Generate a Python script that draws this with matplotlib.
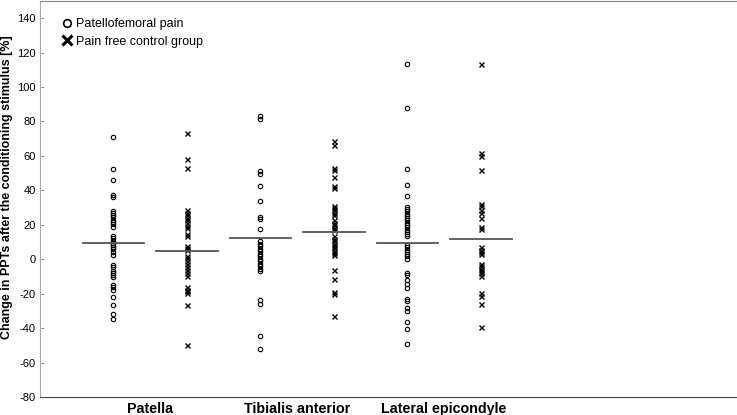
import matplotlib.pyplot as plt
from matplotlib.lines import Line2D

# 부위 / 그룹
sites = ['Patella', 'Tibialis anterior', 'Lateral epicondyle']
group_names = ['Patellofemoral pain', 'Pain free control group']

# PPT 변화량 (%) - 그림에서 읽은 값
pfp_patella = [71.1, 52.2, 46.0, 37.3, 36.2, 28.2, 26.9, 25.7, 24.3, 23.0, 21.6, 20.3, 18.7,
               13.3, 12.2, 10.6, 9.5, 8.5, 7.3, 5.8, 4.4, 2.7, -3.5, -4.8, -7.1, -8.3,
               -9.3, -10.4, -14.9, -16.4, -18.0, -22.2, -26.3, -32.1, -35.0]
ctrl_patella = [73.4, 58.0, 52.9, 28.4, 26.9, 25.5, 24.2, 22.6, 21.1, 19.5, 18.0, 14.9,
                13.5, 7.5, 6.6, 5.6, 2.1, 0.6, -0.8, -2.5, -4.4, -6.4, -7.9, -9.5,
                -16.4, -17.6, -18.7, -19.9, -26.5, -50.0]
pfp_tibialis = [83.1, 81.5, 51.2, 49.7, 42.7, 33.8, 24.5, 23.2, 17.8, 10.3, 9.1, 7.5, 6.2,
                4.8, 3.3, 1.9, 0.4, -1.0, -2.5, -4.1, -5.4, -6.8, -23.4, -26.1, -44.6, -52.2]
ctrl_tibialis = [68.4, 66.1, 53.1, 52.0, 47.7, 42.3, 41.2, 31.1, 29.7, 28.4, 26.9, 25.5,
                 22.6, 21.3, 19.7, 18.4, 17.2, 13.3, 12.0, 10.6, 9.1, 7.7, 6.4, 5.0, 3.7,
                 2.3, -6.4, -11.6, -19.1, -20.3, -32.7]
pfp_epicondyle = [113.5, 87.9, 52.2, 42.9, 36.7, 30.1, 29.0, 27.8, 26.5, 25.1, 23.9, 22.6,
                  21.3, 19.9, 18.6, 17.2, 15.8, 14.5, 13.3, 8.1, 6.8, 5.6, 4.2, 2.9, 1.7,
                  0.4, -7.9, -9.3, -12.0, -14.5, -17.0, -23.0, -24.3, -28.5, -30.1, -36.5,
                  -40.5, -49.3]
ctrl_epicondyle = [113.4, 61.6, 59.9, 52.0, 32.3, 30.7, 28.8, 26.9, 24.2, 18.7, 17.6, 7.1,
                   5.6, 4.2, 2.9, -2.5, -4.1, -5.4, -6.8, -8.3, -9.9, -19.9, -21.4, -26.1,
                   -39.2]

pfp_data = [pfp_patella, pfp_tibialis, pfp_epicondyle]
ctrl_data = [ctrl_patella, ctrl_tibialis, ctrl_epicondyle]

# 평균선
pfp_means = [9.2, 12.2, 9.3]
ctrl_means = [4.6, 15.7, 11.6]

yticks = list(range(-80, 141, 20))

plt.rcParams['font.family'] = ['Liberation Sans Narrow', 'Liberation Sans', 'DejaVu Sans']

fig = plt.figure(figsize=(7.37, 4.15), dpi=100)
ax = fig.add_axes([40 / 737, 18 / 415, 1.0, 1 - 18 / 415 - 0.002])

offset = 0.25
half = 0.21
for i in range(len(sites)):
    xp = i + 1 - offset
    xc = i + 1 + offset
    ax.plot([xp] * len(pfp_data[i]), pfp_data[i], linestyle='none', marker='o',
            markersize=3.2, markerfacecolor='none', markeredgecolor='black',
            markeredgewidth=0.8)
    ax.plot([xc] * len(ctrl_data[i]), ctrl_data[i], linestyle='none', marker='x',
            markersize=3.6, color='black', markeredgewidth=1.0)
    ax.plot([xp - half, xp + half], [pfp_means[i]] * 2, color='#555555', linewidth=1.3)
    ax.plot([xc - half, xc + half], [ctrl_means[i]] * 2, color='#555555', linewidth=1.3)

ax.set_xlim(0.25, 0.25 + 697 / 139)
ax.set_ylim(-80, 150)
ax.set_yticks(yticks)
ax.set_yticklabels([str(v) for v in yticks], fontsize=8)
ax.tick_params(axis='y', direction='in', length=3, width=0.6, color='#888888', pad=3)
ax.set_xticks([1, 2, 3])
ax.set_xticklabels(sites, fontsize=10.3, fontweight='bold')
ax.tick_params(axis='x', length=0, pad=3.5)

ax.spines['right'].set_visible(False)
ax.spines['top'].set_color('#888888')
ax.spines['left'].set_color('#aaaaaa')
ax.spines['bottom'].set_color('#444444')
for s in ax.spines.values():
    s.set_linewidth(0.8)

ax.set_ylabel('Change in PPTs after the conditioning stimulus [%]', fontsize=9,
              fontweight='bold')
ax.yaxis.set_label_coords(-0.037, 0.531)

handles = [
    Line2D([], [], linestyle='none', marker='o', markersize=5.5, markerfacecolor='none',
           markeredgecolor='black', markeredgewidth=1.2),
    Line2D([], [], linestyle='none', marker='x', markersize=6.5, color='black',
           markeredgewidth=2.2),
]
ax.legend(handles, group_names, loc='upper left', bbox_to_anchor=(0.015, 0.985),
          frameon=False, handlelength=0.8, handletextpad=0.3, labelspacing=0.45,
          prop={'family': ['Liberation Sans', 'DejaVu Sans'], 'size': 9})

fig.savefig('out.png', dpi=100)
